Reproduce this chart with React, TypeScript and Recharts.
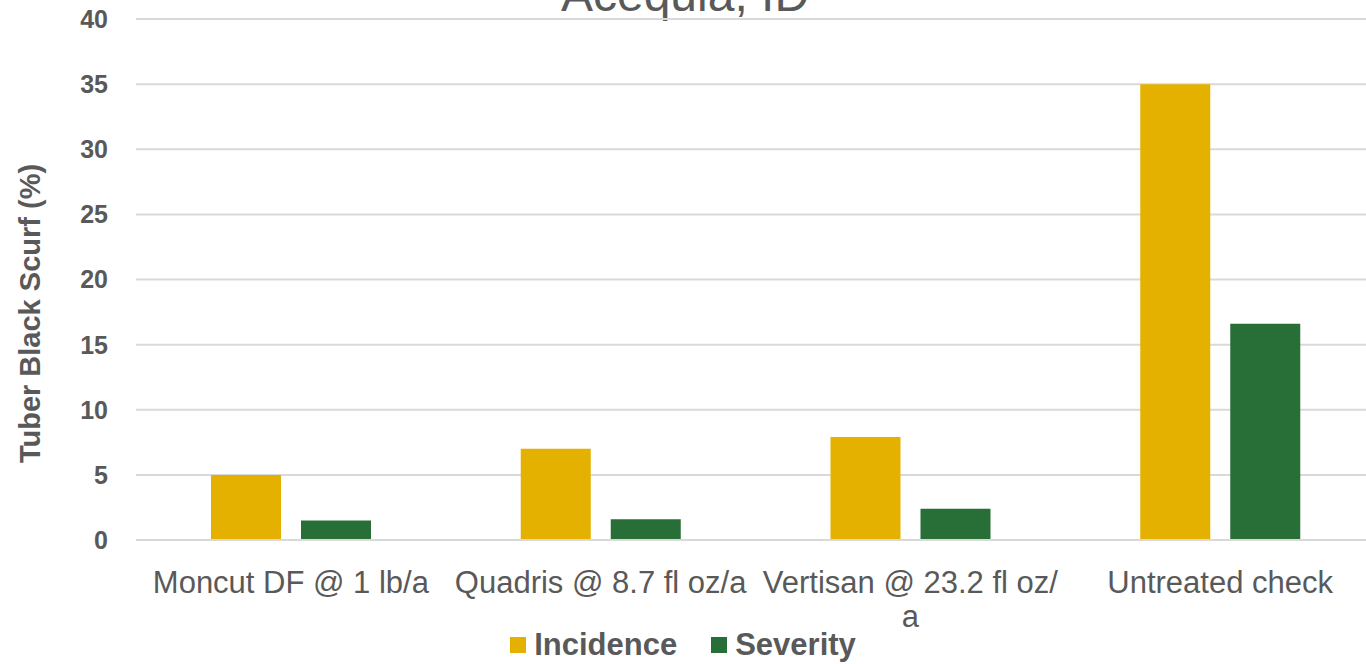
import { BarChart, Bar, XAxis, YAxis, CartesianGrid, Legend } from "recharts";

const treatments = [
  "Moncut DF @ 1 lb/a",
  "Quadris @ 8.7 fl oz/a",
  "Vertisan @ 23.2 fl oz/a",
  "Untreated check",
];
const incidence = [5.0, 7.0, 7.9, 35.0];
const severity = [1.5, 1.6, 2.4, 16.6];
const yTicks = [0, 5, 10, 15, 20, 25, 30, 35, 40];

const data = treatments.map((name, i) => ({
  name,
  Incidence: incidence[i],
  Severity: severity[i],
}));

const GREY = "#595959";
const GOLD = "#E5B100";
const GREEN = "#276E37";
const FONT = "'Liberation Sans', Arial, sans-serif";

let ctx: CanvasRenderingContext2D | null = null;
function textWidth(s: string, font: string) {
  if (!ctx) ctx = document.createElement("canvas").getContext("2d");
  if (!ctx) return s.length * 15;
  ctx.font = font;
  return ctx.measureText(s).width;
}

// wrap like Excel: break after spaces or slashes
function wrap(label: string, maxW: number, font: string) {
  const parts = label.match(/[^ /]+\/?|\s+/g) || [label];
  const lines: string[] = [];
  let cur = "";
  for (const p of parts) {
    const next = cur + p;
    if (cur && textWidth(next.trimEnd(), font) > maxW) {
      lines.push(cur.trim());
      cur = p.trimStart();
    } else {
      cur = next;
    }
  }
  if (cur.trim()) lines.push(cur.trim());
  return lines;
}

function CategoryTick(props: any) {
  const { x, y, payload } = props;
  const font = `31px ${FONT}`;
  const lines = wrap(String(payload.value), 305, font);
  return (
    <text x={x} y={y} textAnchor="middle" fill={GREY} fontSize={31} fontFamily={FONT}>
      {lines.map((l, i) => (
        <tspan key={i} x={x} y={y + 45 + i * 34}>
          {l}
        </tspan>
      ))}
    </text>
  );
}

function LegendBox() {
  const items = [
    { name: "Incidence", color: GOLD },
    { name: "Severity", color: GREEN },
  ];
  return (
    <div style={{ display: "flex", justifyContent: "center", gap: 34, fontFamily: FONT }}>
      {items.map((it) => (
        <div key={it.name} style={{ display: "flex", alignItems: "center" }}>
          <span style={{ width: 16, height: 16, background: it.color, display: "inline-block", marginRight: 8 }} />
          <span style={{ fontSize: 31, fontWeight: "bold", color: GREY, lineHeight: "36px" }}>{it.name}</span>
        </div>
      ))}
    </div>
  );
}

export default function App() {
  return (
    <div style={{ position: "absolute", left: 0, top: 0, width: 1366, height: 664, overflow: "hidden", background: "#fff" }}>
      <div
        style={{
          position: "absolute",
          left: 0,
          width: 1366,
          top: -32,
          textAlign: "center",
          fontFamily: FONT,
          fontSize: 48,
          lineHeight: "54px",
          color: GREY,
          paddingLeft: 2,
        }}
      >
        Acequia, ID
      </div>
      <BarChart
        width={1366}
        height={664}
        data={data}
        margin={{ top: 19, right: -9, left: 0, bottom: 0 }}
        barSize={70}
        barGap={20}
      >
        <CartesianGrid vertical={false} stroke="#d9d9d9" strokeWidth={2} />
        <XAxis
          dataKey="name"
          interval={0}
          tickLine={false}
          axisLine={{ stroke: "#d9d9d9", strokeWidth: 2 }}
          tick={<CategoryTick />}
          height={124}
        />
        <YAxis
          width={136}
          domain={[0, 40]}
          ticks={yTicks}
          axisLine={false}
          tickLine={false}
          tickSize={0}
          tickMargin={28}
          tick={{ fill: GREY, fontSize: 25, fontWeight: "bold", fontFamily: FONT }}
          label={{
            content: (p: any) => {
              const vb = p.viewBox || { x: 0, y: 19, height: 521 };
              const cx = vb.x + 30;
              const cy = vb.y + vb.height / 2 + 34;
              return (
                <text
                  x={cx}
                  y={cy}
                  transform={`rotate(-90 ${cx} ${cy})`}
                  textAnchor="middle"
                  dominantBaseline="central"
                  fill={GREY}
                  fontSize={29}
                  fontWeight="bold"
                  fontFamily={FONT}
                >
                  Tuber Black Scurf (%)
                </text>
              );
            },
          }}
        />
        <Legend
          verticalAlign="middle"
          align="center"
          content={<LegendBox />}
          wrapperStyle={{ top: 627, left: 0, width: 1366 }}
        />
        <Bar dataKey="Incidence" fill={GOLD} isAnimationActive={false} />
        <Bar dataKey="Severity" fill={GREEN} isAnimationActive={false} />
      </BarChart>
    </div>
  );
}
